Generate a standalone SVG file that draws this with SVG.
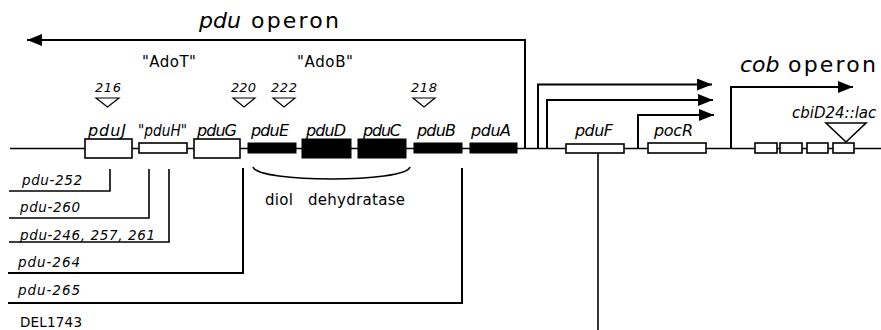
<svg xmlns="http://www.w3.org/2000/svg" width="881" height="330" viewBox="0 0 881 330">
<style>
text{font-family:"DejaVu Sans","Liberation Sans",Arial,sans-serif;fill:#000}
.it{font-style:italic}
.gl{font-size:16px;font-style:italic}
.dl{font-size:13.5px;font-style:italic}
.num{font-size:13px;font-style:italic}
.big{font-size:22px}
.ln{fill:none;stroke:#000;stroke-width:1.6}
.thick{fill:none;stroke:#000;stroke-width:2}
.wb{fill:#fff;stroke:#000;stroke-width:1.6}
.bb{fill:#000;stroke:#000;stroke-width:1}
.tri{fill:#fff;stroke:#000;stroke-width:1.2}
</style>
<defs>
<marker id="ah" markerWidth="16" markerHeight="12" refX="15" refY="6" orient="auto" markerUnits="userSpaceOnUse">
<path d="M0,0 L15,6 L0,12 Z" fill="#000"/>
</marker>
</defs>
<g id="backbone"><line class="ln" x1="10" y1="148.5" x2="881" y2="148.5"/></g>
<g id="connectors">
<path class="thick" d="M525,148 V40 H27" marker-end="url(#ah)"/>
<path class="thick" d="M538,148 V84.5 H712" marker-end="url(#ah)"/>
<path class="thick" d="M547,148 V100 H713" marker-end="url(#ah)"/>
<path class="thick" d="M638,148 V115 H714" marker-end="url(#ah)"/>
<path class="thick" d="M731,148 V87 H853" marker-end="url(#ah)"/>
<path class="ln" d="M598,153 V330"/>
<path class="ln" d="M110,169 V191 H9"/>
<path class="ln" d="M149,169 V218 H9"/>
<path class="ln" d="M169,169 V242 H9"/>
<path class="thick" d="M243,168 V273 H8"/>
<path class="thick" d="M462,168 V303 H8"/>
<path class="ln" d="M253,167 C258,183 405,183 410,167"/>
</g>
<g id="titles">
<text class="big it" x="199" y="28">pdu</text>
<text class="big" x="251" y="28" textLength="88" lengthAdjust="spacing">operon</text>
<text class="big it" x="740" y="72">cob</text>
<text class="big" x="788" y="72" textLength="88" lengthAdjust="spacing">operon</text>
<text x="142" y="67" font-size="15" textLength="54" lengthAdjust="spacing">"AdoT"</text>
<text x="297" y="67" font-size="15" textLength="56" lengthAdjust="spacing">"AdoB"</text>
</g>
<g id="insertions">
<text class="num" x="95" y="92" textLength="26" lengthAdjust="spacing">216</text>
<polygon class="tri" points="96,98 119,98 107.5,107"/>
<text class="num" x="231" y="92" textLength="25" lengthAdjust="spacing">220</text>
<polygon class="tri" points="233,98 255,98 244,107"/>
<text class="num" x="271" y="92" textLength="26" lengthAdjust="spacing">222</text>
<polygon class="tri" points="273,98 295,98 284,107"/>
<text class="num" x="411" y="92" textLength="26" lengthAdjust="spacing">218</text>
<polygon class="tri" points="413,98 435,98 424,107"/>
</g>
<g id="pduJ"><rect class="wb" x="85" y="139" width="47" height="19"/><text class="gl" x="88" y="136" textLength="38" lengthAdjust="spacing">pduJ</text></g>
<g id="pduH"><rect class="wb" x="139" y="143" width="48" height="10"/><text class="it" x="138" y="136" font-size="15" textLength="49" lengthAdjust="spacingAndGlyphs">"pduH"</text></g>
<g id="pduG"><rect class="wb" x="194" y="139" width="46" height="19"/><text class="gl" x="197" y="136" textLength="40" lengthAdjust="spacing">pduG</text></g>
<g id="pduE"><rect class="bb" x="248" y="143" width="48" height="10"/><text class="gl" x="251" y="136" textLength="38" lengthAdjust="spacing">pduE</text></g>
<g id="pduD"><rect class="bb" x="302" y="139" width="49" height="19"/><text class="gl" x="306" y="136" textLength="40" lengthAdjust="spacing">pduD</text></g>
<g id="pduC"><rect class="bb" x="358" y="139" width="48" height="19"/><text class="gl" x="363" y="136" textLength="38" lengthAdjust="spacing">pduC</text></g>
<g id="pduB"><rect class="bb" x="414" y="143" width="48" height="10"/><text class="gl" x="417" y="136" textLength="39" lengthAdjust="spacing">pduB</text></g>
<g id="pduA"><rect class="bb" x="470" y="143" width="47" height="10"/><text class="gl" x="471" y="136" textLength="40" lengthAdjust="spacing">pduA</text></g>
<g id="pduF"><rect class="wb" x="566" y="144" width="58" height="9"/><text class="gl" x="575" y="136" textLength="38" lengthAdjust="spacing">pduF</text></g>
<g id="pocR"><rect class="wb" x="648" y="143" width="58" height="10"/><text class="gl" x="654" y="136" textLength="39" lengthAdjust="spacing">pocR</text></g>
<g id="cob-genes">
<rect class="wb" x="755" y="143" width="22" height="10"/>
<rect class="wb" x="780" y="143" width="22" height="10"/>
<rect class="wb" x="807" y="143" width="21" height="10"/>
<rect class="wb" x="833" y="143" width="21" height="10"/>
<polygon class="wb" points="826,123 866,123 846,142"/>
<text class="it" x="792" y="118" font-size="15">cbiD24::lac</text>
</g>
<g id="diol-dehydratase">
<text x="265" y="205" font-size="15" textLength="28" lengthAdjust="spacing">diol</text>
<text x="308" y="205" font-size="15" textLength="97" lengthAdjust="spacing">dehydratase</text>
</g>
<g id="deletions">
<text class="dl" x="22" y="185" textLength="60" lengthAdjust="spacing">pdu-252</text>
<text class="dl" x="20" y="212" textLength="60" lengthAdjust="spacing">pdu-260</text>
<text class="dl" x="20" y="240" textLength="135" lengthAdjust="spacing">pdu-246, 257, 261</text>
<text class="dl" x="18" y="267" textLength="62" lengthAdjust="spacing">pdu-264</text>
<text class="dl" x="18" y="295" textLength="62" lengthAdjust="spacing">pdu-265</text>
<text x="20" y="327" font-size="13.5" textLength="62" lengthAdjust="spacing">DEL1743</text>
</g>
</svg>
